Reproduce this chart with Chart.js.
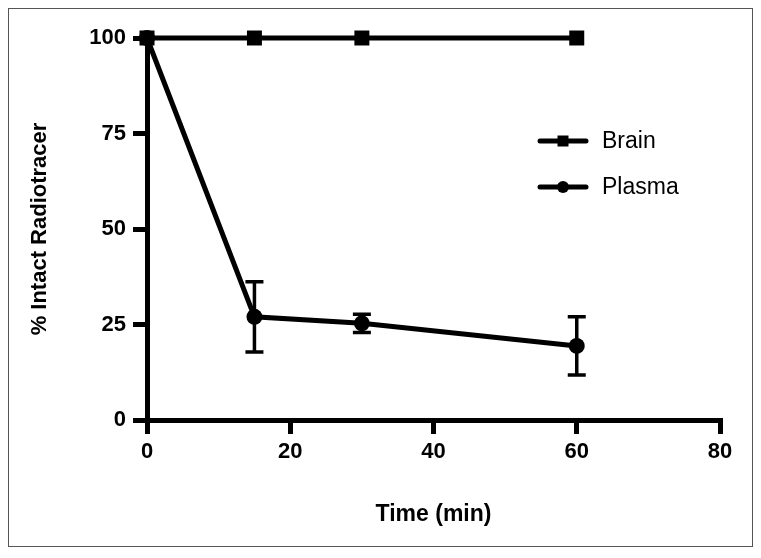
<!DOCTYPE html>
<html>
<head>
<meta charset="utf-8">
<script src="https://cdn.jsdelivr.net/npm/chart.js@4/dist/chart.umd.min.js"></script>
<style>
    html, body { margin: 0; padding: 0; background: #fff; }
    #wrap { position: relative; width: 761px; height: 558px; }
    #frame {
        position: absolute; left: 8px; top: 8px; width: 745px; height: 539px;
        border: 1px solid #555; box-sizing: border-box;
    }
    #chart { position: absolute; left: 0; top: 0; }
</style>
</head>
<body>
<div id="wrap">
    <div id="frame"></div>
    <canvas id="chart" width="761" height="558"></canvas>
</div>
<script>
/* global Chart */

const times = [0, 15, 30, 60];
const brainValues = [100, 100, 100, 100];
const plasmaValues = [100, 27.0, 25.3, 19.4];
const plasmaErrors = [0, 9.2, 2.4, 7.6];
const xTicks = [0, 20, 40, 60, 80];
const yTicks = [0, 25, 50, 75, 100];
const seriesNames = ['Brain', 'Plasma'];

const FONT = "'Liberation Sans', Arial, Helvetica, sans-serif";

function toPoints(xs, ys) {
    return xs.map((x, i) => ({ x, y: ys[i] }));
}

const errorBars = {
    id: 'errorBars',
    beforeDatasetsDraw(chart) {
        const { ctx, scales } = chart;
        const xs = scales.x;
        const ys = scales.y;
        ctx.save();
        ctx.strokeStyle = '#000';
        ctx.lineWidth = 3.5;
        ctx.lineCap = 'butt';
        times.forEach((t, i) => {
            const err = plasmaErrors[i];
            if (!err) return;
            const px = xs.getPixelForValue(t);
            const top = ys.getPixelForValue(plasmaValues[i] + err);
            const bot = ys.getPixelForValue(plasmaValues[i] - err);
            ctx.beginPath();
            ctx.moveTo(px, top);
            ctx.lineTo(px, bot);
            ctx.moveTo(px - 9, top);
            ctx.lineTo(px + 9, top);
            ctx.moveTo(px - 9, bot);
            ctx.lineTo(px + 9, bot);
            ctx.stroke();
        });
        ctx.restore();
    },
};

const insideLegend = {
    id: 'insideLegend',
    afterDraw(chart) {
        const { ctx } = chart;
        const lineX0 = 540;
        const lineX1 = 586;
        const rows = [141, 187];
        ctx.save();
        chart.data.datasets.forEach((ds, i) => {
            const y = rows[i];
            ctx.strokeStyle = '#000';
            ctx.lineWidth = 5;
            ctx.lineCap = 'round';
            ctx.beginPath();
            ctx.moveTo(lineX0, y);
            ctx.lineTo(lineX1, y);
            ctx.stroke();
            ctx.fillStyle = '#000';
            const cx = (lineX0 + lineX1) / 2;
            if (ds.pointStyle === 'rect') {
                ctx.fillRect(cx - 5.5, y - 5.5, 11, 11);
            } else {
                ctx.beginPath();
                ctx.arc(cx, y, 6, 0, Math.PI * 2);
                ctx.fill();
            }
            ctx.font = `23px ${FONT}`;
            ctx.textBaseline = 'middle';
            ctx.textAlign = 'left';
            ctx.fillText(ds.label, 602, y + 1);
        });
        ctx.restore();
    },
};

const axisBase = {
    border: { display: true, color: '#000', width: 5 },
    grid: {
        display: true,
        drawOnChartArea: false,
        drawTicks: true,
        tickLength: 14,
        tickWidth: 5,
        tickColor: '#000',
        color: '#000',
        lineWidth: 5,
    },
};

new Chart(document.getElementById('chart'), {
    type: 'scatter',
    data: {
        datasets: [
            {
                label: seriesNames[0],
                data: toPoints(times, brainValues),
                showLine: true,
                borderColor: '#000',
                backgroundColor: '#000',
                borderWidth: 5,
                pointStyle: 'rect',
                pointRadius: 10.6,
                pointBorderWidth: 0,
                clip: false,
            },
            {
                label: seriesNames[1],
                data: toPoints(times, plasmaValues),
                showLine: true,
                borderColor: '#000',
                backgroundColor: '#000',
                borderWidth: 5,
                pointStyle: 'circle',
                pointRadius: 8,
                pointBorderWidth: 0,
                clip: false,
            },
        ],
    },
    options: {
        responsive: false,
        animation: false,
        events: [],
        layout: { padding: { left: 0, top: 38, right: 41, bottom: 0 } },
        plugins: {
            legend: { display: false },
            tooltip: { enabled: false },
        },
        scales: {
            x: {
                ...axisBase,
                type: 'linear',
                min: 0,
                max: 80,
                afterBuildTicks: (scale) => { scale.ticks = xTicks.map(v => ({ value: v })); },
                afterFit: (scale) => { scale.height = 138; },
                ticks: {
                    color: '#000',
                    padding: 5,
                    font: { family: FONT, size: 22, weight: 'bold' },
                },
                title: {
                    display: true,
                    text: 'Time (min)',
                    color: '#000',
                    padding: { top: 0, bottom: 30 },
                    font: { family: FONT, size: 23, weight: 'bold' },
                },
            },
            y: {
                ...axisBase,
                type: 'linear',
                min: 0,
                max: 100,
                afterBuildTicks: (scale) => { scale.ticks = yTicks.map(v => ({ value: v })); },
                afterFit: (scale) => { scale.width = 147; },
                ticks: {
                    color: '#000',
                    padding: 7,
                    font: { family: FONT, size: 22, weight: 'bold' },
                },
                title: {
                    display: true,
                    text: '% Intact Radiotracer',
                    color: '#000',
                    padding: { top: 27, bottom: 0 },
                    font: { family: FONT, size: 22, weight: 'bold' },
                },
            },
        },
    },
    plugins: [errorBars, insideLegend],
});
</script>
</body>
</html>
